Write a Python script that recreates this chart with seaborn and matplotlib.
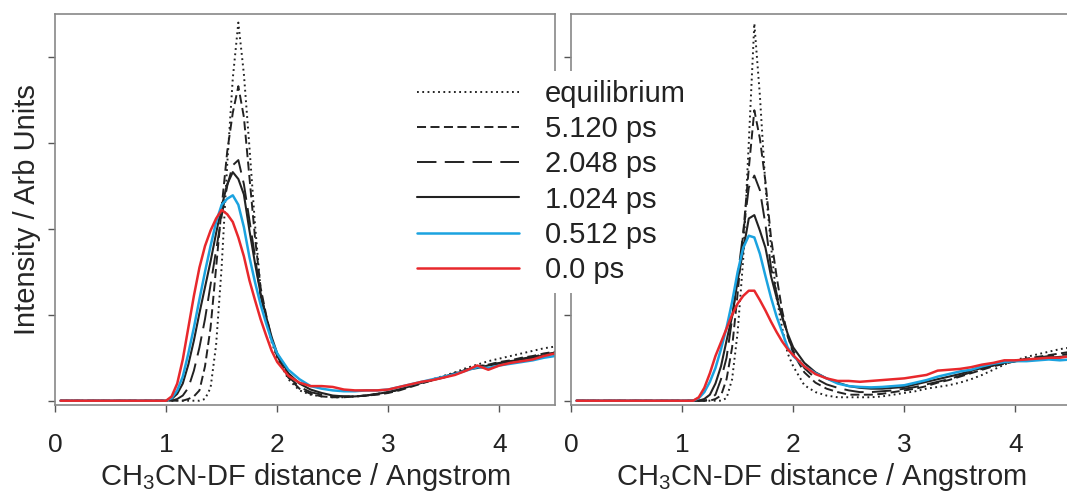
import matplotlib
matplotlib.use("Agg")
import matplotlib.pyplot as plt
import seaborn as sns

# shared distance grid (Angstrom)
dist = [0.05, 0.95,
        1.00, 1.05, 1.10, 1.15, 1.20, 1.25, 1.30, 1.35, 1.40, 1.45, 1.50,
        1.55, 1.60, 1.65, 1.70, 1.75, 1.80, 1.85, 1.90, 1.95, 2.00,
        2.1, 2.2, 2.3, 2.4, 2.5, 2.6, 2.7, 2.8, 2.9, 3.0, 3.1, 3.2, 3.3,
        3.4, 3.5, 3.6, 3.7, 3.8, 3.9, 4.0, 4.1, 4.2, 4.3, 4.4, 4.5]

labels = ["equilibrium", "5.120 ps", "2.048 ps", "1.024 ps", "0.512 ps", "0.0 ps"]

# ---- left panel ----
eq_L = [0, 0,
        0, 0, 0, 0, 0, 0, 0, 0.02, 0.15, 0.65, 1.56,
        2.75, 3.75, 4.40, 3.80, 2.95, 2.05, 1.30, 0.95, 0.68, 0.50,
        0.25, 0.12, 0.07, 0.05, 0.04, 0.04, 0.05, 0.06, 0.08, 0.10, 0.13, 0.17, 0.21,
        0.25, 0.29, 0.33, 0.38, 0.42, 0.46, 0.49, 0.52, 0.55, 0.58, 0.61, 0.63]
p5120_L = [0, 0,
           0, 0, 0, 0, 0.02, 0.05, 0.12, 0.40, 0.85, 1.55, 2.25,
           2.90, 3.35, 3.66, 3.30, 2.60, 1.90, 1.32, 1.00, 0.72, 0.52,
           0.27, 0.14, 0.08, 0.05, 0.04, 0.04, 0.05, 0.06, 0.07, 0.09, 0.12, 0.16, 0.20,
           0.24, 0.28, 0.32, 0.36, 0.40, 0.42, 0.45, 0.47, 0.50, 0.52, 0.55, 0.57]
p2048_L = [0, 0,
           0, 0, 0.02, 0.06, 0.15, 0.35, 0.62, 0.95, 1.35, 1.75, 2.15,
           2.50, 2.74, 2.80, 2.52, 2.10, 1.68, 1.22, 0.95, 0.72, 0.52,
           0.28, 0.16, 0.10, 0.07, 0.05, 0.05, 0.05, 0.06, 0.08, 0.10, 0.13, 0.17, 0.21,
           0.24, 0.28, 0.32, 0.36, 0.39, 0.42, 0.44, 0.46, 0.49, 0.51, 0.54, 0.56]
p1024_L = [0, 0,
           0, 0.02, 0.08, 0.20, 0.42, 0.70, 1.02, 1.32, 1.62, 1.95, 2.26,
           2.52, 2.66, 2.58, 2.40, 1.98, 1.60, 1.25, 0.98, 0.74, 0.55,
           0.32, 0.20, 0.13, 0.09, 0.06, 0.05, 0.05, 0.06, 0.08, 0.10, 0.13, 0.17, 0.21,
           0.24, 0.27, 0.31, 0.36, 0.38, 0.41, 0.43, 0.46, 0.48, 0.50, 0.53, 0.55]
p0512_L = [0, 0,
           0, 0.03, 0.12, 0.28, 0.55, 0.85, 1.18, 1.50, 1.80, 2.08, 2.28,
           2.35, 2.39, 2.28, 2.02, 1.67, 1.38, 1.12, 0.90, 0.70, 0.55,
           0.36, 0.25, 0.17, 0.14, 0.12, 0.11, 0.11, 0.12, 0.12, 0.13, 0.16, 0.19, 0.22,
           0.25, 0.28, 0.31, 0.35, 0.39, 0.38, 0.41, 0.43, 0.45, 0.47, 0.50, 0.52]
p0000_L = [0, 0,
           0, 0.05, 0.20, 0.48, 0.85, 1.22, 1.55, 1.80, 1.98, 2.12, 2.22,
           2.17, 2.08, 1.90, 1.68, 1.40, 1.17, 0.95, 0.76, 0.58, 0.45,
           0.29, 0.21, 0.17, 0.17, 0.16, 0.13, 0.12, 0.12, 0.12, 0.13, 0.16, 0.19, 0.22,
           0.24, 0.27, 0.30, 0.35, 0.41, 0.36, 0.41, 0.44, 0.46, 0.48, 0.52, 0.55]

# ---- right panel ----
eq_R = [0, 0,
        0, 0, 0, 0, 0, 0, 0, 0, 0.03, 0.25, 0.80,
        1.65, 3.00, 4.39, 3.55, 2.50, 1.80, 1.20, 0.85, 0.55, 0.40,
        0.18, 0.10, 0.06, 0.04, 0.04, 0.04, 0.04, 0.05, 0.07, 0.09, 0.11, 0.14, 0.16,
        0.18, 0.21, 0.25, 0.30, 0.36, 0.42, 0.47, 0.51, 0.54, 0.57, 0.60, 0.62]
p5120_R = [0, 0,
           0, 0, 0, 0, 0, 0, 0.02, 0.06, 0.25, 0.62, 1.25,
           1.95, 2.70, 3.38, 3.05, 2.55, 1.90, 1.45, 1.05, 0.76, 0.55,
           0.33, 0.21, 0.14, 0.10, 0.07, 0.07, 0.07, 0.08, 0.10, 0.12, 0.14, 0.17, 0.21,
           0.24, 0.28, 0.32, 0.36, 0.40, 0.43, 0.46, 0.49, 0.51, 0.53, 0.55, 0.57]
p2048_R = [0, 0,
           0, 0, 0, 0, 0, 0.02, 0.07, 0.25, 0.50, 0.95, 1.45,
           1.95, 2.48, 2.62, 2.45, 2.05, 1.55, 1.25, 0.98, 0.75, 0.58,
           0.38, 0.26, 0.19, 0.15, 0.12, 0.10, 0.10, 0.11, 0.12, 0.14, 0.16, 0.19, 0.22,
           0.25, 0.29, 0.33, 0.37, 0.41, 0.44, 0.46, 0.48, 0.50, 0.52, 0.53, 0.55]
p1024_R = [0, 0,
           0, 0, 0, 0, 0.02, 0.07, 0.20, 0.40, 0.70, 0.98, 1.40,
           1.75, 2.12, 2.16, 1.98, 1.78, 1.45, 1.20, 0.98, 0.78, 0.62,
           0.44, 0.33, 0.26, 0.21, 0.17, 0.15, 0.14, 0.14, 0.15, 0.16, 0.19, 0.22, 0.25,
           0.28, 0.31, 0.35, 0.38, 0.41, 0.44, 0.46, 0.47, 0.49, 0.50, 0.51, 0.52]
p0512_R = [0, 0,
           0, 0, 0, 0.03, 0.10, 0.22, 0.38, 0.60, 0.85, 1.15, 1.50,
           1.78, 1.92, 1.90, 1.71, 1.45, 1.20, 0.98, 0.80, 0.62, 0.52,
           0.40, 0.32, 0.26, 0.20, 0.17, 0.16, 0.155, 0.16, 0.17, 0.18, 0.21, 0.24, 0.28,
           0.31, 0.34, 0.36, 0.40, 0.43, 0.45, 0.46, 0.46, 0.47, 0.48, 0.47, 0.48]
p0000_R = [0, 0,
           0, 0, 0, 0.04, 0.15, 0.32, 0.52, 0.68, 0.84, 1.00, 1.13,
           1.22, 1.28, 1.28, 1.17, 1.05, 0.92, 0.80, 0.69, 0.60, 0.53,
           0.40, 0.31, 0.26, 0.23, 0.23, 0.22, 0.23, 0.24, 0.25, 0.26, 0.28, 0.30, 0.35,
           0.36, 0.37, 0.39, 0.42, 0.44, 0.47, 0.47, 0.48, 0.49, 0.50, 0.50, 0.52]

left_series = [eq_L, p5120_L, p2048_L, p1024_L, p0512_L, p0000_L]
right_series = [eq_R, p5120_R, p2048_R, p1024_R, p0512_R, p0000_R]

styles = [
    dict(color="#222222", lw=1.4, ls=(0, (1.3, 2.5))),
    dict(color="#222222", lw=1.4, ls=(0, (6.5, 3.2))),
    dict(color="#222222", lw=1.4, ls=(0, (14, 6))),
    dict(color="#222222", lw=1.5, ls="-"),
    dict(color="#1ba3e0", lw=1.8, ls="-"),
    dict(color="#e8282c", lw=1.8, ls="-"),
]

sns.set_style("white")
plt.rcParams["font.family"] = ["Liberation Sans", "DejaVu Sans"]
plt.rcParams["mathtext.fontset"] = "custom"
plt.rcParams["mathtext.rm"] = "Liberation Sans"
plt.rcParams["mathtext.it"] = "Liberation Sans"
plt.rcParams["lines.scale_dashes"] = False
plt.rcParams["text.color"] = "#222222"

W, H = 1067, 494
fig = plt.figure(figsize=(W / 100, H / 100), dpi=100)
ax1 = fig.add_axes([55 / W, 1 - 405 / H, 500 / W, 391 / H])
ax2 = fig.add_axes([571 / W, 1 - 405 / H, 500 / W, 391 / H])

for ax, series in [(ax1, left_series), (ax2, right_series)]:
    for vals, lab, st in zip(series, labels, styles):
        sns.lineplot(x=dist, y=vals, ax=ax, color=st["color"], linewidth=st["lw"],
                     linestyle=st["ls"], label=lab, estimator=None)
    ax.set_xlim(0, 4.5)
    ax.set_ylim(-0.05, 4.5)
    ax.set_xticks([0, 1, 2, 3, 4])
    ax.set_yticks([0, 1, 2, 3, 4])
    ax.tick_params(axis="both", direction="out", length=5, width=1, color="#555555",
                   labelsize=19, labelcolor="#222222", left=True, bottom=True)
    ax.tick_params(axis="x", pad=15)
    ax.tick_params(axis="y", labelleft=False)
    for sp in ax.spines.values():
        sp.set_color("#888888"); sp.set_linewidth(1.2); sp.set_visible(True)
    ax.set_xlabel(r"CH$_3$CN-DF distance / Angstrom", fontsize=21, labelpad=3)
    ax.set_ylabel("")
    ax.get_legend().remove()

ax1.set_ylabel("Intensity / Arb Units", fontsize=21, labelpad=5)

handles, labs = ax1.get_legend_handles_labels()
leg = fig.legend(handles, labs, loc="upper left", bbox_to_anchor=(408 / W, 1 - 71 / H),
                 fontsize=21, handlelength=3.5, handletextpad=0.9, labelspacing=0.25,
                 frameon=True, borderpad=0.3, borderaxespad=0)
leg.get_frame().set_facecolor("white")
leg.get_frame().set_edgecolor("none")
leg.get_frame().set_alpha(1)

fig.savefig("out.png", dpi=100)
